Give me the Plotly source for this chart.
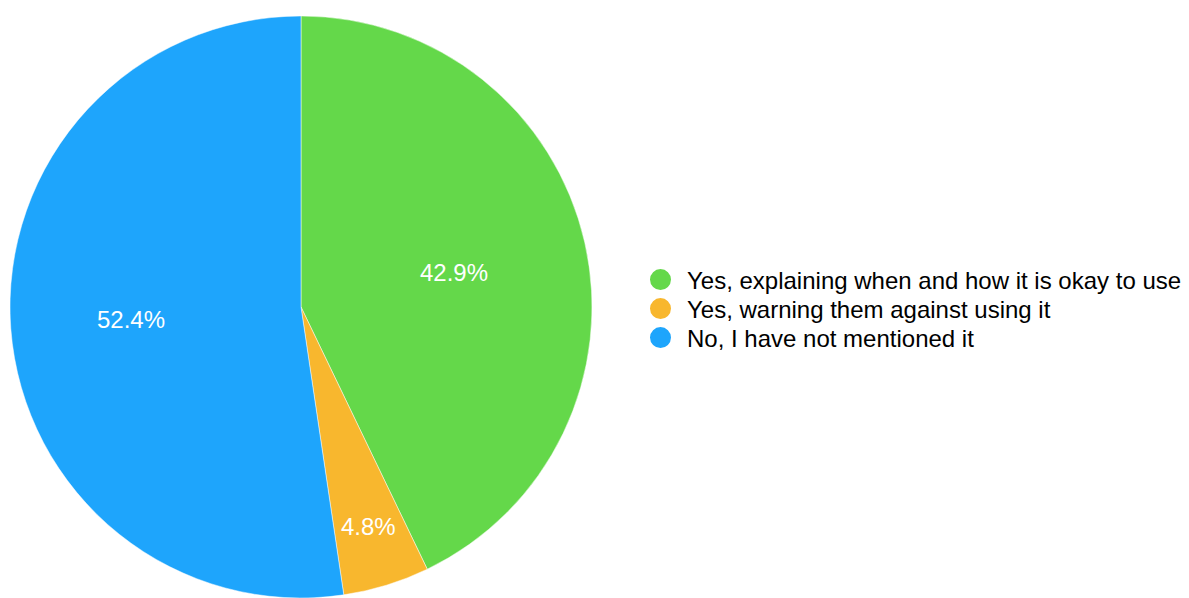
import math
import plotly.graph_objects as go

# Survey responses (percent of respondents)
labels = [
    "Yes, explaining when and how it is okay to use",
    "Yes, warning them against using it",
    "No, I have not mentioned it",
]
shares = [42.9, 4.8, 52.4]
colors = ["#64D84A", "#F8B72E", "#1EA5FC"]
# how far from the centre each percentage label sits (fraction of radius)
label_radius = [0.54, 0.79, 0.585]

W, H = 1189, 598
FONT = "Liberation Sans, Arial, Helvetica, sans-serif"

# pie placement in pixels
CX, CY_BOTTOM, R = 301, 291, 291

fig = go.Figure()

fig.add_trace(go.Pie(
    labels=labels,
    values=shares,
    sort=False,
    direction="clockwise",
    rotation=0,
    marker=dict(colors=colors, line=dict(color="rgba(255,255,255,0.6)", width=0.8)),
    textinfo="none",
    hoverinfo="label+value",
    showlegend=False,
    domain=dict(x=[(CX - R) / W, (CX + R) / W], y=[0, 2 * R / H]),
))

# percentage labels placed at each slice's mid-angle
total = sum(shares)
start = 0.0
for val, frac in zip(shares, label_radius):
    mid = (start + val / 2) / total * 2 * math.pi
    start += val
    px = CX + frac * R * math.sin(mid)
    py = CY_BOTTOM + frac * R * math.cos(mid)
    fig.add_annotation(
        x=px / W, y=py / H, xref="paper", yref="paper",
        text=f"{val}%", showarrow=False,
        xanchor="center", yanchor="middle",
        font=dict(color="white", size=24, family=FONT),
    )

# one single-entry legend per response, stacked in rows
legend_names = ["legend", "legend2", "legend3"]
row_y = [280, 309, 338]
for lab, col, lg in zip(labels, colors, legend_names):
    fig.add_trace(go.Scatter(
        x=[None], y=[None], mode="markers", name=lab, legend=lg,
        marker=dict(symbol="circle", size=16, color=col, line=dict(color=col, width=6)),
        hoverinfo="skip",
    ))

legend_style = dict(
    xanchor="left", yanchor="middle",
    font=dict(size=24, color="black", family=FONT),
    itemsizing="trace",
    itemwidth=43,
    bgcolor="rgba(0,0,0,0)",
)
layout_legends = {
    lg: dict(legend_style, x=634 / W, y=(H - ry) / H)
    for lg, ry in zip(legend_names, row_y)
}

fig.update_layout(
    width=W, height=H,
    margin=dict(l=0, r=0, t=0, b=0),
    paper_bgcolor="white",
    plot_bgcolor="white",
    xaxis=dict(visible=False),
    yaxis=dict(visible=False),
    showlegend=True,
    **layout_legends,
)

fig.write_html("out.html")
